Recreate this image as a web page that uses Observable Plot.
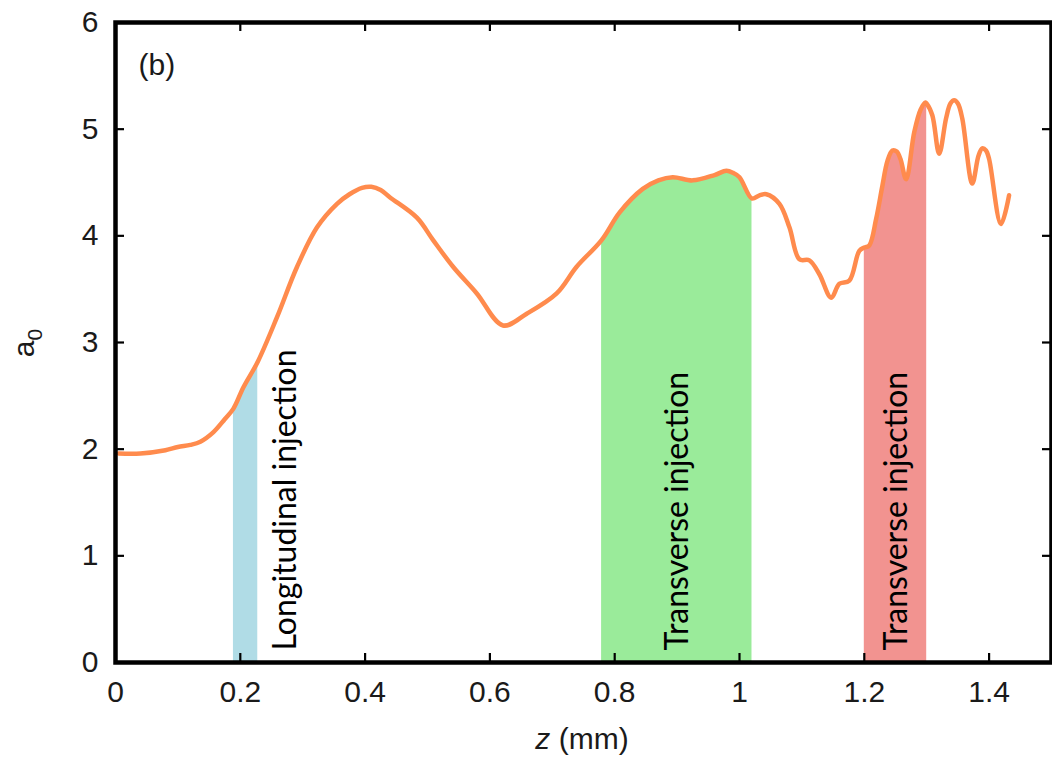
<!DOCTYPE html>
<html>
<head>
<meta charset="utf-8">
<script src="https://cdn.jsdelivr.net/npm/d3@7"></script>
<script src="https://cdn.jsdelivr.net/npm/@observablehq/plot@0.6"></script>
<style>
  html, body { margin: 0; padding: 0; background: #fff; }
</style>
</head>
<body>
<div id="chart"></div>
<script>
// Laser amplitude a0 along the propagation distance z (mm)
const zMm = [
  0.005, 0.04, 0.08, 0.10, 0.12, 0.136, 0.157, 0.175, 0.189, 0.205,
  0.228, 0.259, 0.291, 0.323, 0.355, 0.375, 0.395, 0.41, 0.425, 0.44,
  0.483, 0.509, 0.541, 0.579, 0.621, 0.659, 0.707, 0.739, 0.779, 0.808,
  0.845, 0.87, 0.893, 0.925, 0.96, 0.979, 0.99, 1.0, 1.02, 1.032,
  1.043, 1.064, 1.08, 1.096, 1.112, 1.128, 1.147, 1.16, 1.176, 1.192,
  1.2, 1.208, 1.219, 1.229, 1.237, 1.245, 1.252, 1.258, 1.267, 1.28,
  1.29, 1.298, 1.30, 1.309, 1.32, 1.331, 1.338, 1.344, 1.35, 1.357,
  1.373, 1.383, 1.389, 1.395, 1.40, 1.419, 1.432
];
const a0 = [
  1.96, 1.96, 1.99, 2.02, 2.04, 2.07, 2.16, 2.28, 2.38, 2.58,
  2.82, 3.24, 3.71, 4.08, 4.30, 4.39, 4.45, 4.46, 4.43, 4.36,
  4.17, 3.96, 3.71, 3.46, 3.16, 3.27, 3.46, 3.71, 3.96, 4.22,
  4.44, 4.52, 4.55, 4.52, 4.57, 4.61, 4.59, 4.55, 4.35, 4.38,
  4.39, 4.30, 4.08, 3.78, 3.77, 3.64, 3.42, 3.55, 3.58, 3.86,
  3.89, 3.91, 4.16, 4.47, 4.70, 4.80, 4.79, 4.72, 4.53, 4.97,
  5.18, 5.25, 5.24, 5.13, 4.77, 5.10, 5.24, 5.27, 5.24, 5.10,
  4.49, 4.75, 4.82, 4.80, 4.72, 4.11, 4.38
];

// Injection intervals (z in mm)
const bandStart = [0.189, 0.779, 1.2];
const bandEnd   = [0.228, 1.02, 1.3];
const bandLabel = ["Longitudinal injection", "Transverse injection", "Transverse injection"];

const xTicks = [0, 0.2, 0.4, 0.6, 0.8, 1, 1.2, 1.4];
const yTicks = [0, 1, 2, 3, 4, 5, 6];

const bandFill = ["#b0dce6", "#9aeb9a", "#f29390"];
const curveColor = "#ff8b4d";
const sansFont = "'Liberation Sans', Arial, Helvetica, sans-serif";
const labelFont = "Lato, 'Open Sans', sans-serif";

const curve = zMm.map((z, i) => ({z, a: a0[i]}));
const bands = bandStart.map((s, i) => ({start: s, end: bandEnd[i], label: bandLabel[i], fill: bandFill[i]}));

const W = 1052, H = 757;
const margin = {left: 115, right: 1, top: 22, bottom: 95};
const innerW = W - margin.left - margin.right;
const innerH = H - margin.top - margin.bottom;

// short tick marks drawn inside the frame on all four sides
const tickLen = 9;
const tickStyle = {stroke: "black", strokeWidth: 2.2};

const svg = Plot.plot({
  width: W,
  height: H,
  marginLeft: margin.left,
  marginRight: margin.right,
  marginTop: margin.top,
  marginBottom: margin.bottom,
  style: {fontFamily: sansFont, fontSize: "30px", color: "#1a1a1a", background: "#fff", overflow: "visible"},
  x: {domain: [0, 1.5], axis: null},
  y: {domain: [0, 6], axis: null},
  marks: [
    // shaded injection intervals under the curve
    ...bands.map(b => Plot.areaY(curve.filter(d => d.z >= b.start && d.z <= b.end), {
      x: "z", y: "a", fill: b.fill, curve: "catmull-rom"
    })),
    Plot.line(curve, {x: "z", y: "a", stroke: curveColor, strokeWidth: 4.5, curve: "catmull-rom",
      strokeLinejoin: "round", strokeLinecap: "round"}),
    // vertical band labels
    Plot.text(bands.slice(0, 1), {
      x: "end", y: 0, text: "label", rotate: -90, textAnchor: "start", lineAnchor: "middle",
      dx: 28, dy: -12, fontFamily: labelFont, fontSize: 32, fill: "black"
    }),
    Plot.text(bands.slice(1), {
      x: d => (d.start + d.end) / 2, y: 0, text: "label", rotate: -90, textAnchor: "start", lineAnchor: "middle",
      dx: 1, dy: -12, fontFamily: labelFont, fontSize: 32, fill: "black"
    }),
    Plot.text(["(b)"], {frameAnchor: "top-left", dx: 23, dy: 31, fontSize: 30, fill: "#1a1a1a"}),
    // tick labels outside the frame
    Plot.axisX(xTicks, {anchor: "bottom", tickSize: 0, tickPadding: 18, tickFormat: d3.format("~g"), label: null}),
    Plot.axisY(yTicks, {anchor: "left", tickSize: 0, tickPadding: 17, tickFormat: d3.format("~g"), label: null}),
    // inward ticks: bottom, top, left, right
    Plot.ruleX(xTicks, {x: d => d, insetTop: innerH - tickLen, ...tickStyle}),
    Plot.ruleX(xTicks, {x: d => d, insetBottom: innerH - tickLen, ...tickStyle}),
    Plot.ruleY(yTicks, {y: d => d, insetRight: innerW - tickLen, ...tickStyle}),
    Plot.ruleY(yTicks, {y: d => d, insetLeft: innerW - tickLen, ...tickStyle}),
    Plot.frame({stroke: "black", strokeWidth: 4.5})
  ]
});

const root = d3.select(svg);

// y-axis title: a with subscript 0
const yTitle = root.append("text")
  .attr("transform", "translate(34,343) rotate(-90)")
  .attr("text-anchor", "middle")
  .attr("font-family", sansFont)
  .attr("font-size", 30)
  .attr("fill", "#1a1a1a");
yTitle.append("tspan").text("a");
yTitle.append("tspan").attr("font-size", 21).attr("dy", 8).text("0");

// x-axis title: z (mm), with italic z
const xTitle = root.append("text")
  .attr("x", 582)
  .attr("y", 749)
  .attr("text-anchor", "middle")
  .attr("font-family", sansFont)
  .attr("font-size", 30)
  .attr("fill", "#1a1a1a");
xTitle.append("tspan").attr("font-style", "italic").text("z");
xTitle.append("tspan").text(" (mm)");

document.getElementById("chart").appendChild(svg);
</script>
</body>
</html>
